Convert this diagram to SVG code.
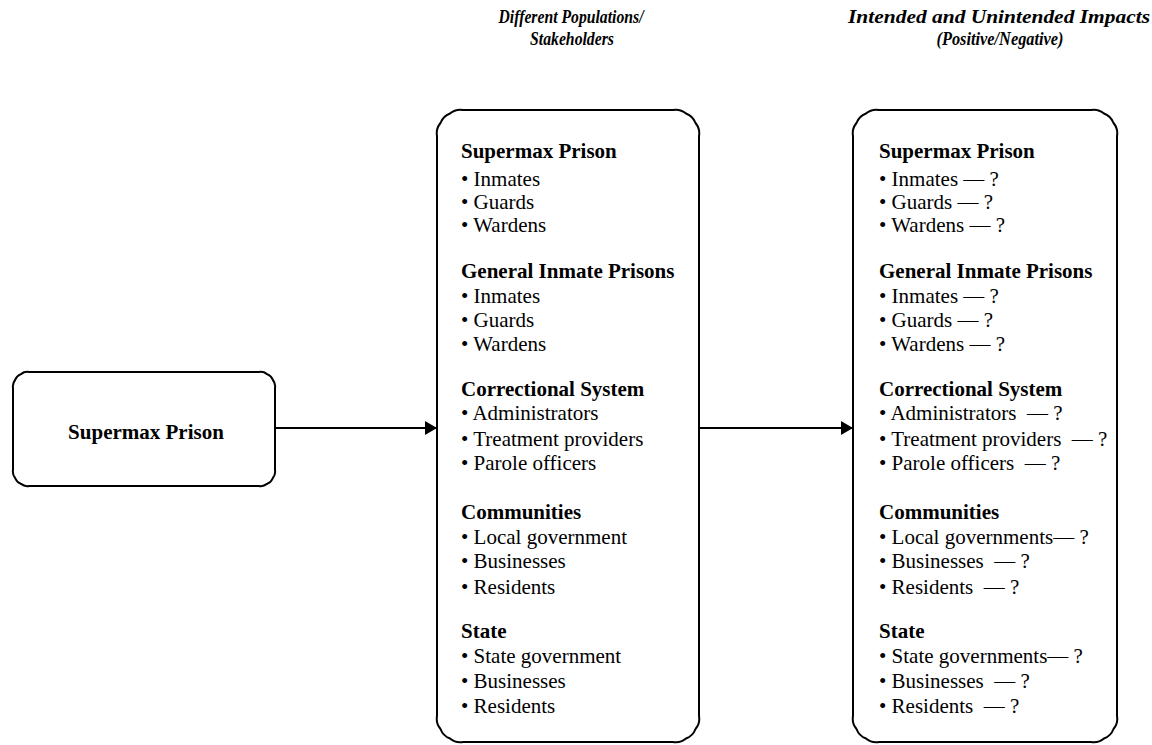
<svg xmlns="http://www.w3.org/2000/svg" width="1152" height="745" viewBox="0 0 1152 745">
<defs>
<style>
.box{fill:#fff;stroke:#000;stroke-width:2}
.t{font-family:"Liberation Serif","Times New Roman",serif;font-size:21px;fill:#000;white-space:pre}
.b{font-weight:bold}
.h{font-family:"Liberation Serif","Times New Roman",serif;font-size:18.5px;font-weight:bold;font-style:italic;fill:#000}
.conn{stroke:#000;stroke-width:2;fill:none}
</style>
<marker id="arr" viewBox="0 0 12 14" refX="12" refY="7" markerWidth="12" markerHeight="14" markerUnits="userSpaceOnUse" orient="auto">
<path d="M0,0 L12,7 L0,14 Z" fill="#000"/>
</marker>
</defs>
<g id="headers">
<text class="h" x="571" y="23" text-anchor="middle" textLength="145" lengthAdjust="spacingAndGlyphs">Different Populations/</text>
<text class="h" x="572" y="45" text-anchor="middle" textLength="84" lengthAdjust="spacingAndGlyphs">Stakeholders</text>
<text class="h" x="999" y="23" text-anchor="middle" textLength="302" lengthAdjust="spacingAndGlyphs">Intended and Unintended Impacts</text>
<text class="h" x="1000" y="45" text-anchor="middle" textLength="127" lengthAdjust="spacingAndGlyphs">(Positive/Negative)</text>
</g>
<g id="connectors">
<line class="conn" x1="275" y1="428" x2="437" y2="428" marker-end="url(#arr)"/>
<line class="conn" x1="699" y1="428" x2="853" y2="428" marker-end="url(#arr)"/>
</g>
<g id="node-source">
<path class="box" d="M13,388 A10,10 0 0 1 15.1,380 A10,10 0 0 1 21,374.1 A10,10 0 0 1 29,372 H259 A10,10 0 0 1 267,374.1 A10,10 0 0 1 272.9,380 A10,10 0 0 1 275,388 V470 A10,10 0 0 1 272.9,478 A10,10 0 0 1 267,483.9 A10,10 0 0 1 259,486 H29 A10,10 0 0 1 21,483.9 A10,10 0 0 1 15.1,478 A10,10 0 0 1 13,470 Z"/>
<text class="t b" x="146" y="439" text-anchor="middle">Supermax Prison</text>
</g>
<g id="node-stakeholders">
<path class="box" d="M437,136 A16,16 0 0 1 440.5,123 A16,16 0 0 1 450,113.5 A16,16 0 0 1 463,110 H673 A16,16 0 0 1 686,113.5 A16,16 0 0 1 695.5,123 A16,16 0 0 1 699,136 V716 A16,16 0 0 1 695.5,729 A16,16 0 0 1 686,738.5 A16,16 0 0 1 673,742 H463 A16,16 0 0 1 450,738.5 A16,16 0 0 1 440.5,729 A16,16 0 0 1 437,716 Z"/>
<text class="t b" x="461" y="158">Supermax Prison</text>
<text class="t" x="461" y="186">• Inmates</text>
<text class="t" x="461" y="209">• Guards</text>
<text class="t" x="461" y="232">• Wardens</text>
<text class="t b" x="461" y="278">General Inmate Prisons</text>
<text class="t" x="461" y="303">• Inmates</text>
<text class="t" x="461" y="327">• Guards</text>
<text class="t" x="461" y="351">• Wardens</text>
<text class="t b" x="461" y="396">Correctional System</text>
<text class="t" x="461" y="420">• Administrators</text>
<text class="t" x="461" y="446">• Treatment providers</text>
<text class="t" x="461" y="470">• Parole officers</text>
<text class="t b" x="461" y="519">Communities</text>
<text class="t" x="461" y="544">• Local government</text>
<text class="t" x="461" y="568">• Businesses</text>
<text class="t" x="461" y="594">• Residents</text>
<text class="t b" x="461" y="638">State</text>
<text class="t" x="461" y="663">• State government</text>
<text class="t" x="461" y="688">• Businesses</text>
<text class="t" x="461" y="713">• Residents</text>
</g>
<g id="node-impacts">
<path class="box" d="M853,136 A16,16 0 0 1 856.5,123 A16,16 0 0 1 866,113.5 A16,16 0 0 1 879,110 H1091 A16,16 0 0 1 1104,113.5 A16,16 0 0 1 1113.5,123 A16,16 0 0 1 1117,136 V716 A16,16 0 0 1 1113.5,729 A16,16 0 0 1 1104,738.5 A16,16 0 0 1 1091,742 H879 A16,16 0 0 1 866,738.5 A16,16 0 0 1 856.5,729 A16,16 0 0 1 853,716 Z"/>
<text class="t b" x="879" y="158">Supermax Prison</text>
<text class="t" x="879" y="186">• Inmates — ?</text>
<text class="t" x="879" y="209">• Guards — ?</text>
<text class="t" x="879" y="232">• Wardens — ?</text>
<text class="t b" x="879" y="278">General Inmate Prisons</text>
<text class="t" x="879" y="303">• Inmates — ?</text>
<text class="t" x="879" y="327">• Guards — ?</text>
<text class="t" x="879" y="351">• Wardens — ?</text>
<text class="t b" x="879" y="396">Correctional System</text>
<text class="t" x="879" y="420">• Administrators  — ?</text>
<text class="t" x="879" y="446">• Treatment providers  — ?</text>
<text class="t" x="879" y="470">• Parole officers  — ?</text>
<text class="t b" x="879" y="519">Communities</text>
<text class="t" x="879" y="544">• Local governments— ?</text>
<text class="t" x="879" y="568">• Businesses  — ?</text>
<text class="t" x="879" y="594">• Residents  — ?</text>
<text class="t b" x="879" y="638">State</text>
<text class="t" x="879" y="663">• State governments— ?</text>
<text class="t" x="879" y="688">• Businesses  — ?</text>
<text class="t" x="879" y="713">• Residents  — ?</text>
</g>
</svg>
